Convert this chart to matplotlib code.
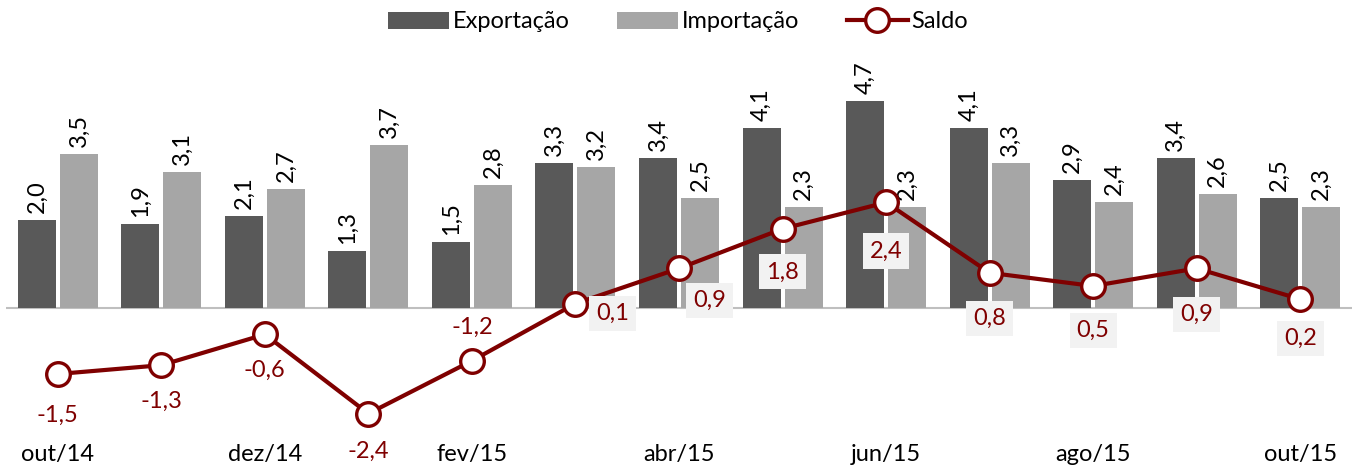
import matplotlib
matplotlib.use("Agg")
import matplotlib.pyplot as plt
import numpy as np

categories = ["out/14", "nov/14", "dez/14", "jan/15", "fev/15", "mar/15", "abr/15",
              "mai/15", "jun/15", "jul/15", "ago/15", "set/15", "out/15"]
exportacao = [2.0, 1.9, 2.1, 1.3, 1.5, 3.3, 3.4, 4.1, 4.7, 4.1, 2.9, 3.4, 2.5]
importacao = [3.5, 3.1, 2.7, 3.7, 2.8, 3.2, 2.5, 2.3, 2.3, 3.3, 2.4, 2.6, 2.3]
saldo = [-1.5, -1.3, -0.6, -2.4, -1.2, 0.1, 0.9, 1.8, 2.4, 0.8, 0.5, 0.9, 0.2]

plt.rcParams['font.family'] = ['Lato', 'DejaVu Sans']
FS = 17

def fmt(v):
    return f"{v:.1f}".replace(".", ",")

fig = plt.figure(figsize=(13.63, 4.74), dpi=100)
ax = fig.add_axes([6/1363, (474-440)/474, 1346/1363, 352/474])

x = np.arange(len(categories))
bw = 0.367
off = 0.203
c_exp = "#595959"
c_imp = "#A6A6A6"
c_sal = "#7F0000"

b1 = ax.bar(x - off, exportacao, bw, color=c_exp, label="Exportação", zorder=2)
b2 = ax.bar(x + off, importacao, bw, color=c_imp, label="Importação", zorder=2)

for xs, vals in ((x - off, exportacao), (x + off, importacao)):
    for xi, v in zip(xs, vals):
        ax.annotate(fmt(v), (xi, v), xytext=(0, 5), textcoords="offset points",
                    rotation=90, ha="center", va="bottom", fontsize=FS, color="black",
                    annotation_clip=False)

ax.axhline(0, color="#BFBFBF", lw=1.5, zorder=1)

ax.plot(x, saldo, color=c_sal, lw=3, marker="o", markersize=17,
        markerfacecolor="white", markeredgecolor=c_sal, markeredgewidth=2.4,
        label="Saldo", zorder=4)

# label offsets in points (dx, dy)
offsets = [(0, -30), (0, -26), (0, -26), (0, -27), (0, 24), (27, -7), (22, -23),
           (0, -31), (0, -35), (0, -33), (0, -32), (0, -33), (0, -28)]
for xi, v, (dx, dy) in zip(x, saldo, offsets):
    kw = {}
    if v > 0:
        kw["bbox"] = dict(boxstyle="square,pad=0.3", fc="#F2F2F2", ec="none")
    ax.annotate(fmt(v), (xi, v), xytext=(dx, dy), textcoords="offset points",
                ha="center", va="center", fontsize=FS, color=c_sal, zorder=5,
                annotation_clip=False, **kw)

ax.set_xlim(-0.5, len(categories) - 0.5)
ax.set_ylim(-3, 5)
ax.set_yticks([])
ax.set_xticks(x[::2])
ax.set_xticklabels(categories[::2], fontsize=FS)
ax.tick_params(axis="x", length=0, pad=3)
for s in ax.spines.values():
    s.set_visible(False)

fig.legend(handles=[b1, b2, ax.lines[-1]], labels=["Exportação", "Importação", "Saldo"],
           loc="center", bbox_to_anchor=(678/1363, 1 - 22/474), ncol=3, frameon=False,
           fontsize=FS, handlelength=2.6, handleheight=0.7, columnspacing=2.0,
           handletextpad=0.15)

fig.savefig("out.png", dpi=100)
